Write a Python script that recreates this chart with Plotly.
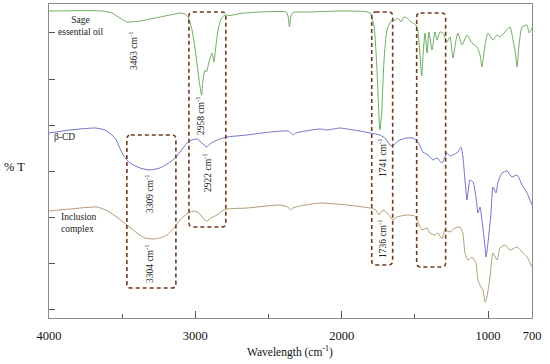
import plotly.graph_objects as go

# ---- data (wavenumber in cm-1, transmittance in arbitrary offset units) ----
sage_wn = [4000, 3631, 3570, 3515, 3467, 3378, 3276, 3173, 3105, 3071, 3050, 3023, 2996, 2975, 2957,
           2948, 2934, 2924, 2907, 2886, 2873, 2859, 2845, 2825, 2798, 2763, 2695, 2559, 2381, 2367,
           2357, 2347, 2333, 2217, 2012, 1841, 1807, 1780, 1759, 1746, 1739, 1728, 1711, 1691, 1663,
           1636, 1616, 1595, 1575, 1554, 1534, 1513, 1493, 1479, 1465, 1454, 1442, 1431, 1417, 1404,
           1383, 1363, 1349, 1329, 1308, 1281, 1260, 1240, 1219, 1206, 1178, 1144, 1110, 1076, 1055,
           1042, 1021, 1001, 967, 939, 919, 885, 850, 830, 816, 802, 789, 768, 734, 720, 700]
sage_T = [307, 307, 305, 300, 296, 297, 300, 303, 305, 304, 301, 288, 263, 238, 223,
          238, 248, 246, 256, 265, 256, 273, 288, 299, 303, 302.5, 304.5, 306, 306, 302,
          291, 302, 305.5, 306, 307, 306.5, 305, 293, 248, 203, 188, 203, 258, 288, 297,
          298, 300, 296, 301, 300, 297, 295, 293, 286, 263, 242, 268, 285, 265, 286,
          268, 286, 278, 286, 285, 276, 281, 260, 278, 285, 273, 283, 275, 271, 263,
          251, 273, 285, 278, 283, 281, 286, 291, 278, 268, 251, 273, 291, 293, 285, 290]

bcd_wn = [4000, 3857, 3686, 3617, 3549, 3494, 3447, 3378, 3310, 3242, 3153, 3105, 3057, 3023, 2989,
          2955, 2921, 2900, 2880, 2832, 2784, 2647, 2490, 2367, 2347, 2333, 2312, 2285, 2149, 2101,
          2012, 1964, 1875, 1807, 1739, 1698, 1670, 1650, 1623, 1602, 1554, 1513, 1479, 1445, 1411,
          1377, 1349, 1315, 1281, 1260, 1240, 1206, 1185, 1172, 1158, 1144, 1124, 1103, 1083, 1069,
          1055, 1042, 1021, 1014, 1001, 980, 967, 946, 932, 905, 871, 837, 802, 768, 734, 700]
bcd_T = [185, 188, 190, 188, 180, 163, 155, 150, 148, 150, 158, 166, 175, 178, 179,
         175, 171, 174, 176, 179, 181, 183, 186, 187, 185, 183, 185, 186, 189, 188,
         190, 189, 187, 185, 183, 179, 173, 172, 176, 178, 180, 180, 176, 166, 163,
         158, 160, 155, 165, 162, 163, 166, 171, 161, 138, 118, 138, 136, 121, 105,
         111, 98, 71, 61, 75, 105, 131, 125, 136, 145, 147, 141, 143, 133, 125, 113]

inc_wn = [4000, 3857, 3672, 3597, 3529, 3467, 3399, 3344, 3290, 3242, 3194, 3146, 3105, 3050, 3003,
          2975, 2948, 2921, 2893, 2852, 2818, 2784, 2647, 2422, 2367, 2353, 2333, 2285, 2149, 1964,
          1807, 1766, 1746, 1718, 1684, 1650, 1623, 1554, 1500, 1479, 1452, 1418, 1397, 1363, 1342,
          1315, 1295, 1260, 1226, 1192, 1172, 1158, 1137, 1110, 1083, 1069, 1049, 1035, 1021, 1008,
          987, 967, 939, 919, 885, 850, 802, 768, 734, 700]
inc_T = [107, 109, 111, 107, 100, 93, 85, 80, 79, 80, 83, 90, 98, 105, 107,
         105, 100, 97, 100, 103, 107, 109, 110, 113, 111, 108, 110, 112, 115, 113,
         110, 108, 103, 108, 104, 98, 101, 103, 102, 96, 88, 90, 85, 83, 85,
         79, 88, 86, 90, 91, 85, 65, 58, 61, 55, 38, 31, 28, 16, 21,
         41, 65, 58, 70, 73, 68, 71, 66, 61, 51]

x_ticks = [4000, 3000, 2000, 1000, 700]
x_minor = [3500, 2500, 1500]

# ---- figure ----
SERIF = "Liberation Serif"
fig = go.Figure()
line_style = dict(width=1, shape="spline", smoothing=0.5)
fig.add_trace(go.Scatter(x=sage_wn, y=sage_T, mode="lines", line=dict(color="#6cae5f", **line_style)))
fig.add_trace(go.Scatter(x=bcd_wn, y=bcd_T, mode="lines", line=dict(color="#7373c6", **line_style)))
fig.add_trace(go.Scatter(x=inc_wn, y=inc_T, mode="lines", line=dict(color="#b29c73", **line_style)))

# dashed rounded boxes (x0, x1 in cm-1; y0, y1 in T units)
boxes = [(3044, 2792, 91, 306), (3468, 3133, 30, 183), (1795, 1652, 53, 306), (1488, 1290, 51, 305)]
rx, ry = 27, 4
for x0, x1, y0, y1 in boxes:
    path = (f"M {x0 - rx},{y1} L {x1 + rx},{y1} Q {x1},{y1} {x1},{y1 - ry} "
            f"L {x1},{y0 + ry} Q {x1},{y0} {x1 + rx},{y0} L {x0 - rx},{y0} "
            f"Q {x0},{y0} {x0},{y0 + ry} L {x0},{y1 - ry} Q {x0},{y1} {x0 - rx},{y1} Z")
    fig.add_shape(type="path", path=path, xref="x", yref="y",
                  line=dict(color="#6e3a1e", width=1.6, dash="4px,3px"))

def label(x, y, text, angle=0, align="center", xanchor="center", size=9.5):
    fig.add_annotation(x=x, y=y, text=text, textangle=angle, showarrow=False, align=align,
                       xanchor=xanchor, yanchor="middle", font=dict(family=SERIF, size=size, color="#222"))

label(3785, 292.5, "Sage<br>essential oil")
label(3980, 181, "β-CD", xanchor="left")
label(3932, 95.5, "Inclusion<br>complex", align="left", xanchor="left")
label(3426, 267, "3463 cm<sup>-1</sup>", angle=-90)
label(2968, 202, "2958 cm<sup>-1</sup>", angle=-90)
label(2921, 146, "2922 cm<sup>-1</sup>", angle=-90)
label(3317, 125, "3309 cm<sup>-1</sup>", angle=-90)
label(3317, 55, "3304 cm<sup>-1</sup>", angle=-90)
label(1725, 161, "1741 cm<sup>-1</sup>", angle=-90)
label(1725, 80, "1736 cm<sup>-1</sup>", angle=-90)

fig.add_annotation(x=-0.072, y=0.481, xref="paper", yref="paper", text="% T", showarrow=False,
                   xanchor="center", yanchor="middle",
                   font=dict(family=SERIF, size=12.5, color="#111"))
fig.add_annotation(x=0.499, y=-0.108, xref="paper", yref="paper", text="Wavelength (cm<sup>-1</sup>)",
                   showarrow=False, xanchor="center", yanchor="middle",
                   font=dict(family=SERIF, size=11.5, color="#111"))

fig.update_layout(
    width=550, height=364, margin=dict(l=49, r=18, t=4, b=46),
    paper_bgcolor="white", plot_bgcolor="white", showlegend=False,
    xaxis=dict(range=[4000, 700], tickvals=x_ticks, ticktext=[str(v) for v in x_ticks],
               ticks="inside", ticklen=7, tickcolor="#555", tickwidth=1,
               minor=dict(tickvals=x_minor, ticks="inside", ticklen=4, tickcolor="#555"),
               showline=True, linecolor="#8a8a8a", linewidth=1, mirror=True,
               showgrid=False, zeroline=False, ticklabeloverflow="allow", ticklabelstandoff=6,
               tickfont=dict(family=SERIF, size=12.5, color="#111")),
    yaxis=dict(range=[0, 314], tick0=8.5, dtick=46.1, ticks="inside", ticklen=6,
               tickcolor="#555", showticklabels=False,
               showline=True, linecolor="#8a8a8a", linewidth=1, mirror=True,
               showgrid=False, zeroline=False),
)
fig.write_html("out.html", post_script="document.body.style.margin='0';",
               config={"displayModeBar": False})
